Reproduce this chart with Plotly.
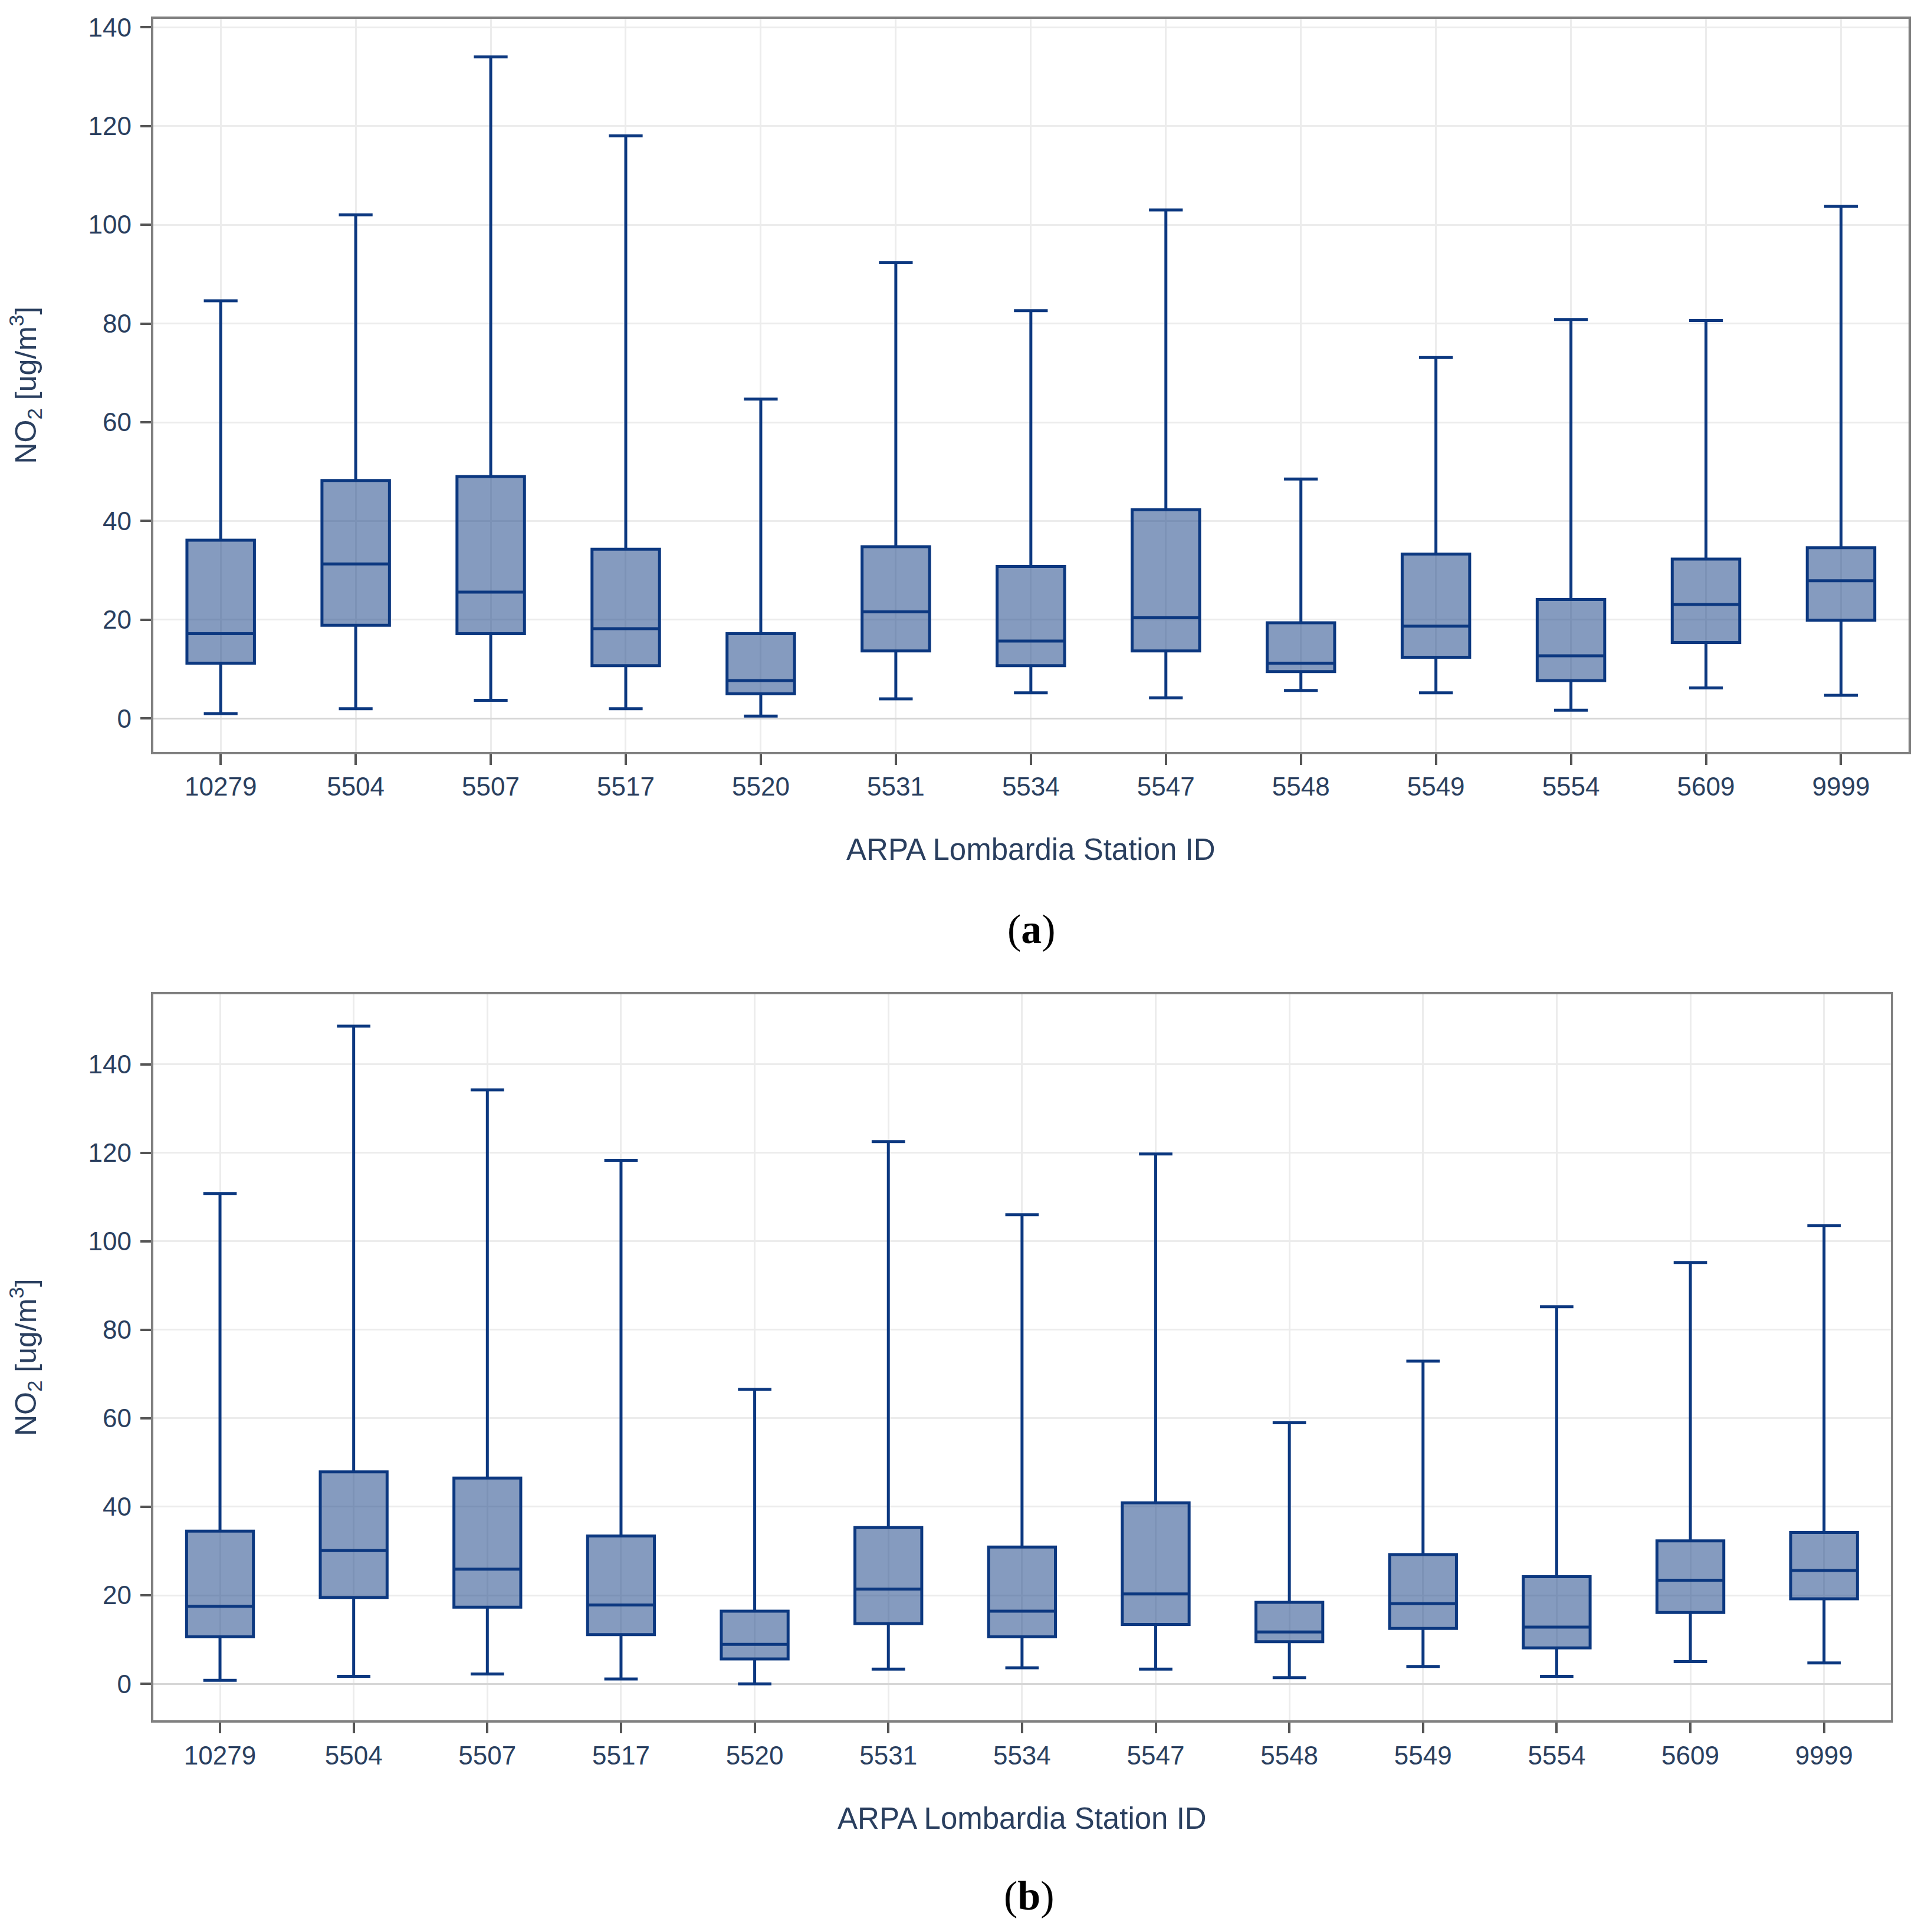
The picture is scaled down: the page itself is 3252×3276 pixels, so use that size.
import plotly.graph_objects as go

stations = ["10279", "5504", "5507", "5517", "5520", "5531", "5534",
            "5547", "5548", "5549", "5554", "5609", "9999"]

# Panel (a)
a_lower = [1.0, 2.0, 3.7, 2.0, 0.5, 4.0, 5.2, 4.2, 5.7, 5.2, 1.7, 6.2, 4.7]
a_q1 = [11.2, 18.9, 17.2, 10.7, 5.0, 13.7, 10.7, 13.7, 9.5, 12.4, 7.7, 15.4, 19.9]
a_median = [17.2, 31.3, 25.6, 18.2, 7.7, 21.6, 15.7, 20.4, 11.2, 18.7, 12.7, 23.1, 27.9]
a_q3 = [36.1, 48.2, 49.0, 34.3, 17.2, 34.8, 30.8, 42.3, 19.4, 33.3, 24.1, 32.3, 34.6]
a_upper = [84.6, 102.0, 134.0, 118.0, 64.7, 92.3, 82.6, 103.0, 48.5, 73.1, 80.8, 80.6, 103.7]

# Panel (b)
b_lower = [0.8, 1.7, 2.2, 1.1, 0.0, 3.3, 3.6, 3.3, 1.4, 3.9, 1.7, 5.0, 4.7]
b_q1 = [10.6, 19.5, 17.3, 11.1, 5.6, 13.6, 10.6, 13.4, 9.5, 12.5, 8.1, 16.1, 19.2]
b_median = [17.5, 30.1, 25.9, 17.8, 8.9, 21.4, 16.4, 20.3, 11.7, 18.1, 12.8, 23.4, 25.6]
b_q3 = [34.5, 47.9, 46.5, 33.4, 16.4, 35.3, 30.9, 40.9, 18.4, 29.2, 24.2, 32.3, 34.2]
b_upper = [110.8, 148.6, 134.2, 118.3, 66.5, 122.5, 106.0, 119.7, 59.0, 72.9, 85.2, 95.2, 103.5]

x_title = "ARPA Lombardia Station ID"
y_title = "NO<sub>2</sub> [ug/m<sup>3</sup>]"
y_ticks = [0, 20, 40, 60, 80, 100, 120, 140]
panel_labels = ["(<b>a</b>)", "(<b>b</b>)"]

LINE = "rgb(12,56,128)"
FILL = "rgba(12,56,128,0.5)"
TXT = "#2a3f5f"
FONT = "Liberation Sans, Arial, sans-serif"

fig = go.Figure()
fig.add_trace(go.Box(x=stations, lowerfence=a_lower, q1=a_q1, median=a_median,
                     q3=a_q3, upperfence=a_upper, xaxis="x", yaxis="y",
                     line=dict(color=LINE, width=5), fillcolor=FILL,
                     whiskerwidth=0.5, showlegend=False, boxpoints=False))
fig.add_trace(go.Box(x=stations, lowerfence=b_lower, q1=b_q1, median=b_median,
                     q3=b_q3, upperfence=b_upper, xaxis="x2", yaxis="y2",
                     line=dict(color=LINE, width=5), fillcolor=FILL,
                     whiskerwidth=0.5, showlegend=False, boxpoints=False))

xcommon = dict(type="category", categoryorder="array", categoryarray=stations,
               showgrid=True, gridcolor="#ececec", gridwidth=3,
               showline=True, linecolor="#808080", linewidth=4, mirror=True,
               ticks="outside", ticklen=18, tickwidth=4, tickcolor="#555555",
               tickfont=dict(family=FONT, size=44, color=TXT),
               title=dict(text=x_title, font=dict(family=FONT, size=51, color=TXT), standoff=66),
               automargin=False)
ycommon = dict(showgrid=True, gridcolor="#ececec", gridwidth=3,
               zeroline=True, zerolinecolor="#d6d6d6", zerolinewidth=3,
               showline=True, linecolor="#808080", linewidth=4, mirror=True,
               ticks="outside", ticklen=18, tickwidth=4, tickcolor="#555555",
               tickvals=y_ticks, ticklabelstandoff=6,
               tickfont=dict(family=FONT, size=44, color=TXT),
               title=dict(text=y_title, font=dict(family=FONT, size=50, color=TXT), standoff=84),
               automargin=False)

fig.update_layout(
    width=3252, height=3276,
    margin=dict(l=0, r=0, t=0, b=0),
    paper_bgcolor="white", plot_bgcolor="white",
    boxgap=0.5, boxgroupgap=0,
    xaxis=dict(**xcommon, domain=[0.0774, 0.9926], anchor="y"),
    yaxis=dict(**ycommon, domain=[0.6134, 0.9927], range=[-6.7, 141.7], anchor="x"),
    xaxis2=dict(**xcommon, domain=[0.0774, 0.9834], anchor="y2"),
    yaxis2=dict(**ycommon, domain=[0.1119, 0.4878], range=[-8.3, 155.8], anchor="x2"),
)

for label, xc, yc in [(panel_labels[0], 0.5355, 1 - 1567 / 3276),
                      (panel_labels[1], 0.534, 1 - 3206 / 3276)]:
    fig.add_annotation(text=label, x=xc, y=yc, xref="paper", yref="paper",
                       showarrow=False, xanchor="center", yanchor="middle",
                       font=dict(family="Liberation Serif, Times New Roman, serif",
                                 size=70, color="black"))

fig.write_html("out.html")
